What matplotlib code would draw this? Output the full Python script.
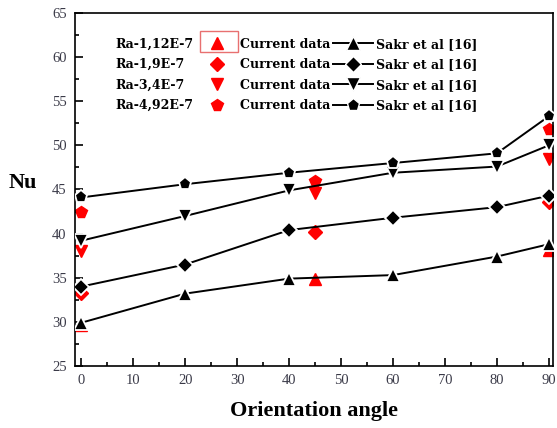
import matplotlib
matplotlib.use("Agg")
import matplotlib.pyplot as plt
from matplotlib.lines import Line2D
from matplotlib.patches import Rectangle
from matplotlib.ticker import MultipleLocator

plt.rcParams["font.family"] = ["Liberation Serif", "DejaVu Serif"]

# Sakr et al [16] curves
angles_ref = [0, 20, 40, 60, 80, 90]
nu_ref_ra1 = [29.9, 33.2, 34.9, 35.3, 37.4, 38.8]
nu_ref_ra2 = [34.0, 36.5, 40.4, 41.8, 43.0, 44.3]
nu_ref_ra3 = [39.2, 42.0, 44.9, 46.9, 47.6, 50.0]
nu_ref_ra4 = [44.1, 45.6, 46.9, 48.0, 49.1, 53.3]

# current data
angles_cur = [0, 45, 90]
nu_cur_ra1 = [29.6, 34.9, 38.2]
nu_cur_ra2 = [33.3, 40.2, 43.6]
nu_cur_ra3 = [38.0, 44.6, 48.4]
nu_cur_ra4 = [42.4, 46.0, 51.8]

ra_labels = ["Ra-1,12E-7", "Ra-1,9E-7", "Ra-3,4E-7", "Ra-4,92E-7"]
markers = ["^", "D", "v", "p"]

fig = plt.figure(figsize=(5.57, 4.28), dpi=100)
ax = fig.add_axes([0.1347, 0.1449, 0.8581, 0.8247])

ref_sets = [nu_ref_ra1, nu_ref_ra2, nu_ref_ra3, nu_ref_ra4]
cur_sets = [nu_cur_ra1, nu_cur_ra2, nu_cur_ra3, nu_cur_ra4]
ms_ref = [9.5, 8, 9.5, 9.5]
ms_cur = [8.5, 7, 8.5, 8.5]

for ref, cur, m, mr, mc in zip(ref_sets, cur_sets, markers, ms_ref, ms_cur):
    ax.plot(angles_cur, cur, linestyle="none", marker=m, color="red",
            markersize=mc, markeredgecolor="red", zorder=2)
    ax.plot(angles_ref, ref, color="black", linewidth=1.4, marker=m,
            markersize=mr, markerfacecolor="black", markeredgecolor="white",
            markeredgewidth=1.3, zorder=3)

ax.set_xlim(-1.2, 90.8)
ax.set_ylim(25, 65)
ax.xaxis.set_major_locator(MultipleLocator(10))
ax.xaxis.set_minor_locator(MultipleLocator(5))
ax.yaxis.set_major_locator(MultipleLocator(5))
ax.yaxis.set_minor_locator(MultipleLocator(2.5))
ax.tick_params(which="both", direction="in", top=False, right=False,
               labelsize=10.5, labelcolor="#3a3a48", width=1.2)
ax.tick_params(which="major", length=6, pad=6)
ax.tick_params(which="minor", length=3)
for s in ax.spines.values():
    s.set_linewidth(1.2)

ax.set_xlabel("Orientation angle", fontsize=16, fontweight="bold", labelpad=10)
ax.set_ylabel("Nu", fontsize=16, fontweight="bold", rotation=0)
ax.yaxis.set_label_coords(-0.11, 0.49)

# legend: Ra label | current data | Sakr et al
blank = Line2D([], [], linestyle="none")
col1 = [blank] * 4
col2 = [Line2D([], [], linestyle="none", marker=m, color="red", markersize=mc)
        for m, mc in zip(markers, ms_cur)]
col3 = [Line2D([], [], color="black", linewidth=1.4, marker=m, markersize=mr,
               markeredgecolor="white", markeredgewidth=1.0)
        for m, mr in zip(markers, ms_ref)]
handles = col1 + col2 + col3
labels = ra_labels + ["Current data"] * 4 + ["Sakr et al [16]"] * 4
leg = ax.legend(handles, labels, ncol=3, loc="upper left",
                bbox_to_anchor=(-0.027, 0.962), frameon=False, handlelength=3.2,
                handletextpad=0.2, columnspacing=0.25, labelspacing=0.6,
                prop={"family": "DejaVu Serif", "weight": "bold", "size": 9})

# selection box around the first legend symbol, as in the source image
fig.patches.append(Rectangle((200 / 557, 1 - 52 / 428), 38 / 557, 21 / 428,
                             transform=fig.transFigure, fill=False,
                             edgecolor="#e87070", linewidth=1.0))

fig.savefig("out.png", dpi=100)
